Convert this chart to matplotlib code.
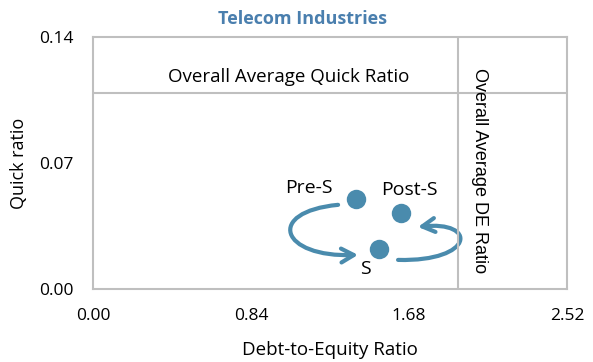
import matplotlib.pyplot as plt
from matplotlib.patches import FancyArrowPatch
from matplotlib.path import Path

# phases and their position (debt-to-equity, quick ratio)
phases = ['Pre-S', 'S', 'Post-S']
de_ratio = [1.40, 1.52, 1.64]
quick_ratio = [0.050, 0.022, 0.042]

avg_de = 1.94
avg_quick = 0.109

x_ticks = [0.00, 0.84, 1.68, 2.52]
y_ticks = [0.00, 0.07, 0.14]

blue = '#4a8bad'
grey = '#bfbfbf'

plt.rcParams['font.family'] = ['Open Sans', 'DejaVu Sans']

fig, ax = plt.subplots(figsize=(5.93, 3.62), dpi=100)
fig.subplots_adjust(left=0.157, right=0.956, top=0.898, bottom=0.202)

ax.set_xlim(0, 2.52)
ax.set_ylim(0, 0.14)
ax.set_xticks(x_ticks)
ax.set_yticks(y_ticks)
ax.set_xticklabels([f'{v:.2f}' for v in x_ticks], fontsize=12.5)
ax.set_yticklabels([f'{v:.2f}' for v in y_ticks], fontsize=12.5)
ax.tick_params(length=0, pad=14)
for s in ax.spines.values():
    s.set_color(grey)
    s.set_linewidth(1.5)

# averages
ax.axvline(avg_de, color=grey, lw=1.5)
ax.axhline(avg_quick, color=grey, lw=1.5)
ax.text(1.04, avg_quick + 0.0035, 'Overall Average Quick Ratio', ha='center', va='bottom',
        fontsize=13.5)
ax.text(avg_de + 0.115, 0.1228, 'Overall Average DE Ratio', rotation=270, ha='center', va='top',
        fontsize=13, family='Liberation Sans')

ax.plot(de_ratio, quick_ratio, 'o', color=blue, ms=14, mec='none')

offsets = {'Pre-S': (-0.25, 0.006), 'S': (-0.07, -0.011), 'Post-S': (0.04, 0.013)}
for name, x, y in zip(phases, de_ratio, quick_ratio):
    dx, dy = offsets[name]
    ax.text(x + dx, y + dy, name, ha='center', va='center', fontsize=14)

# cycle arrows
curves = [
    [(1.303, 0.0467), (0.914, 0.0428), (0.994, 0.0172), (1.409, 0.0189)],
    [(1.622, 0.0161), (2.031, 0.0150), (2.047, 0.0383), (1.728, 0.0344)],
]
codes = [Path.MOVETO, Path.CURVE4, Path.CURVE4, Path.CURVE4]
for pts in curves:
    arr = FancyArrowPatch(path=Path(pts, codes), arrowstyle='->,head_length=9,head_width=5',
                          color=blue, lw=3, transform=ax.transData)
    ax.add_patch(arr)

ax.set_title('Telecom Industries', x=0.441, color='#4a7fae', fontsize=13, fontweight='bold', pad=9)
ax.set_xlabel('Debt-to-Equity Ratio', fontsize=13.5, labelpad=12)
ax.set_ylabel('Quick ratio', fontsize=13, labelpad=8)

fig.savefig('out.png')
